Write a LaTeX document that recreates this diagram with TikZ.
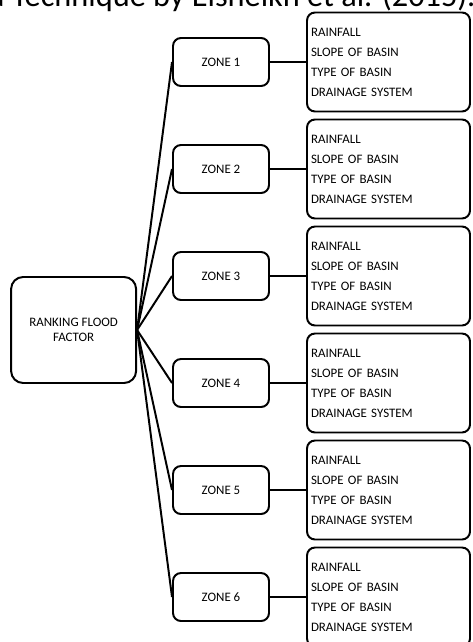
\documentclass[tikz,border=0pt]{standalone}
\usepackage{fontspec}
\setmainfont{Carlito}
\begin{document}
\begin{tikzpicture}[line width=1.4pt,
    zone/.style={rectangle, draw, rounded corners=0.2cm, minimum width=2.4cm, minimum height=1.2cm, font=\fontsize{9.2}{11}\selectfont},
    factors/.style={rectangle, draw, rounded corners=0.2cm, minimum height=2.475cm, text width=3.875cm, inner xsep=0.1cm, align=left, font=\fontsize{9.2}{14.2}\selectfont},
    rank/.style={rectangle, draw, rounded corners=0.3cm, minimum width=3.125cm, minimum height=2.65cm, align=center, font=\fontsize{9.2}{10.2}\selectfont}]
    \useasboundingbox (0,0) rectangle (11.8,-16.05);
    \clip (0,0) rectangle (11.8,-16.05);

    \draw(-0.3, -0.175) node [anchor=base west, inner sep=0, font=\fontsize{23}{28}\selectfont](title){a Technique by Elsheikh et al. (2015).};

    \draw(1.84, -8.25) node [rank](rank){RANKING FLOOD\\FACTOR};

    \draw(5.525, -1.55) node [zone](z1){ZONE 1};
    \draw(5.525, -4.225) node [zone](z2){ZONE 2};
    \draw(5.525, -6.9) node [zone](z3){ZONE 3};
    \draw(5.525, -9.575) node [zone](z4){ZONE 4};
    \draw(5.525, -12.25) node [zone](z5){ZONE 5};
    \draw(5.525, -14.925) node [zone](z6){ZONE 6};

    \draw(9.7125, -1.55) node [factors](f1){RAINFALL\\SLOPE OF BASIN\\TYPE OF BASIN\\DRAINAGE SYSTEM};
    \draw(9.7125, -4.225) node [factors](f2){RAINFALL\\SLOPE OF BASIN\\TYPE OF BASIN\\DRAINAGE SYSTEM};
    \draw(9.7125, -6.9) node [factors](f3){RAINFALL\\SLOPE OF BASIN\\TYPE OF BASIN\\DRAINAGE SYSTEM};
    \draw(9.7125, -9.575) node [factors](f4){RAINFALL\\SLOPE OF BASIN\\TYPE OF BASIN\\DRAINAGE SYSTEM};
    \draw(9.7125, -12.25) node [factors](f5){RAINFALL\\SLOPE OF BASIN\\TYPE OF BASIN\\DRAINAGE SYSTEM};
    \draw(9.7125, -14.925) node [factors](f6){RAINFALL\\SLOPE OF BASIN\\TYPE OF BASIN\\DRAINAGE SYSTEM};

    \draw (rank.east) -- (z1.west);
    \draw (rank.east) -- (z2.west);
    \draw (rank.east) -- (z3.west);
    \draw (rank.east) -- (z4.west);
    \draw (rank.east) -- (z5.west);
    \draw (rank.east) -- (z6.west);

    \draw (z1) -- (f1);
    \draw (z2) -- (f2);
    \draw (z3) -- (f3);
    \draw (z4) -- (f4);
    \draw (z5) -- (f5);
    \draw (z6) -- (f6);
\end{tikzpicture}
\end{document}
